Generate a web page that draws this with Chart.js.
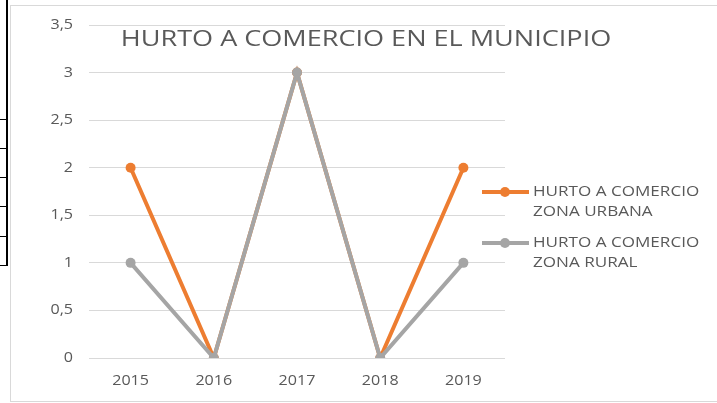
<!DOCTYPE html>
<html>
<head>
<meta charset="utf-8">
<script src="https://cdn.jsdelivr.net/npm/chart.js@4/dist/chart.umd.min.js"></script>
<style>
  html,body{margin:0;padding:0;background:#fff;}
  #wrap{position:relative;width:717px;height:403px;overflow:hidden;}
  canvas{position:absolute;left:0;top:0;}
  .frame{position:absolute;left:10px;top:5px;width:720px;height:397px;border:1px solid #d9d9d9;box-sizing:border-box;}
  .bl{position:absolute;background:#000;}
</style>
</head>
<body>
<div id="wrap">
  <div class="frame"></div>
  <div class="bl" style="left:6px;top:0;width:2px;height:266px"></div>
  <div class="bl" style="left:0;top:119px;width:7px;height:1px"></div>
  <div class="bl" style="left:0;top:148px;width:7px;height:1px"></div>
  <div class="bl" style="left:0;top:177px;width:7px;height:1px"></div>
  <div class="bl" style="left:0;top:206px;width:7px;height:1px"></div>
  <div class="bl" style="left:0;top:236px;width:7px;height:1px"></div>
  <div class="bl" style="left:0;top:265px;width:7px;height:1px"></div>
  <canvas id="c" width="717" height="403"></canvas>
</div>
<script>
const categories = ['2015', '2016', '2017', '2018', '2019'];
const urbana = [2, 0, 3, 0, 2];
const rural = [1, 0, 3, 0, 1];
const yTicks = [0, 0.5, 1, 1.5, 2, 2.5, 3, 3.5];
const seriesNames = [['HURTO A COMERCIO', 'ZONA URBANA'], ['HURTO A COMERCIO', 'ZONA RURAL']];
const chartTitle = 'HURTO A COMERCIO EN EL MUNICIPIO';

const FONT = "'Open Sans', 'Liberation Sans', sans-serif";
const ORANGE = '#ED7D31';
const GRAY = '#A5A5A5';
const TEXT = '#595959';

// draw text stretched horizontally (the reference is widened)
function wideText(ctx, str, x, y, sx, align) {
  ctx.save();
  ctx.translate(x, y);
  ctx.scale(sx, 1);
  ctx.textAlign = align;
  ctx.fillText(str, 0, 0);
  ctx.restore();
}

const overlay = {
  id: 'overlay',
  afterDraw(chart) {
    const ctx = chart.ctx;
    const xs = chart.scales.x, ys = chart.scales.y;
    ctx.save();
    ctx.fillStyle = TEXT;
    ctx.textBaseline = 'middle';
    // axis labels
    ctx.font = "14px " + FONT;
    yTicks.forEach(v => {
      wideText(ctx, String(v).replace('.', ','), 73, ys.getPixelForValue(v), 1.15, 'right');
    });
    categories.forEach((c, i) => {
      wideText(ctx, c, xs.getPixelForValue(i), ys.bottom + 23, 1.15, 'center');
    });
    // title
    ctx.font = "22px " + FONT;
    wideText(ctx, chartTitle, 366, 40, 1.23, 'center');
    // legend
    const items = [
      {color: ORANGE, y: 192, lines: seriesNames[0]},
      {color: GRAY, y: 243, lines: seriesNames[1]}
    ];
    ctx.font = "14px " + FONT;
    items.forEach(it => {
      ctx.strokeStyle = it.color;
      ctx.lineWidth = 4;
      ctx.beginPath();
      ctx.moveTo(482, it.y);
      ctx.lineTo(529, it.y);
      ctx.stroke();
      ctx.fillStyle = it.color;
      ctx.beginPath();
      ctx.arc(505, it.y, 5, 0, Math.PI * 2);
      ctx.fill();
      ctx.fillStyle = TEXT;
      wideText(ctx, it.lines[0], 533, it.y, 1.22, 'left');
      wideText(ctx, it.lines[1], 533, it.y + 20, 1.22, 'left');
    });
    ctx.restore();
  }
};

new Chart(document.getElementById('c'), {
  type: 'line',
  data: {
    labels: categories,
    datasets: [
      {label: seriesNames[0].join(' '), data: urbana, borderColor: ORANGE, backgroundColor: ORANGE,
       borderWidth: 4, pointRadius: 5, pointHoverRadius: 5, pointBorderWidth: 0, order: 2, tension: 0},
      {label: seriesNames[1].join(' '), data: rural, borderColor: GRAY, backgroundColor: GRAY,
       borderWidth: 4, pointRadius: 5, pointHoverRadius: 5, pointBorderWidth: 0, order: 1, tension: 0}
    ]
  },
  options: {
    responsive: false,
    animation: false,
    devicePixelRatio: 1,
    layout: {padding: {left: 0, right: 212, top: 25, bottom: 0}},
    plugins: {legend: {display: false}, title: {display: false}, tooltip: {enabled: false}},
    scales: {
      x: {
        offset: true,
        grid: {display: false, drawTicks: false},
        border: {display: false},
        ticks: {display: false},
        afterFit(s) { s.height = 45; }
      },
      y: {
        min: 0, max: 3.5,
        grid: {color: '#d9d9d9', lineWidth: 1, drawTicks: false},
        border: {display: false},
        ticks: {display: false, stepSize: 0.5},
        afterFit(s) { s.width = 89; }
      }
    }
  },
  plugins: [overlay]
});
</script>
</body>
</html>
